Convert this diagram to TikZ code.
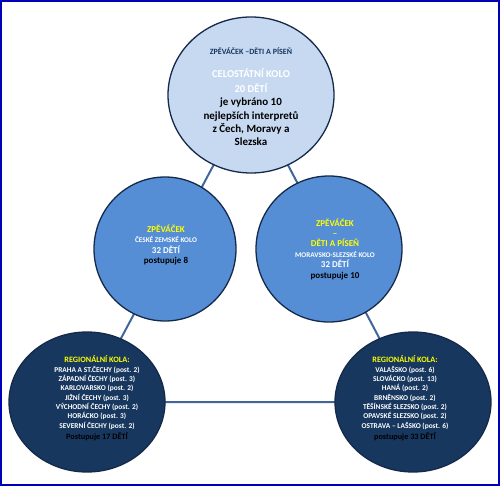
\documentclass[tikz,border=0pt]{standalone}
\usepackage{fontspec}
\setmainfont{Carlito}
\usetikzlibrary{shapes.geometric,backgrounds,positioning}
\definecolor{tmava}{HTML}{17375E}
\definecolor{okraj}{HTML}{15294A}
\definecolor{stredni}{HTML}{558ED5}
\definecolor{svetla}{HTML}{C6D9F1}
\definecolor{spojnice}{HTML}{41679A}
\definecolor{ramecek}{HTML}{0000B8}
\definecolor{zluta}{HTML}{FFFF00}

\tikzset{
  kolo/.style={ellipse, draw=okraj, line width=1.3pt, inner sep=0pt},
  popis/.style={align=center, inner sep=0pt},
  spoj/.style={spojnice, line width=2pt},
}

\begin{document}
\begin{tikzpicture}[x=1pt,y=-1pt]
\useasboundingbox (0,0) rectangle (500,486);
\draw[ramecek, line width=2pt] (1,1) rectangle (499,485);

\node[kolo, fill=svetla, minimum width=166pt, minimum height=156pt] (celo) at (251,95) {};
\node[kolo, fill=stredni, minimum width=142pt, minimum height=144pt] (cesko) at (165,249) {};
\node[kolo, fill=stredni, minimum width=146pt, minimum height=146pt] (morava) at (329,249) {};
\node[kolo, fill=tmava, minimum width=156pt, minimum height=140pt] (regcz) at (87,402) {};
\node[kolo, fill=tmava, minimum width=156pt, minimum height=140pt] (regms) at (413,402) {};

\begin{scope}[on background layer]
\draw[spoj] (celo.center) -- (regcz.center) -- (regms.center) -- cycle;
\end{scope}

\node[popis, text=tmava, font=\bfseries\fontsize{8}{10}\selectfont] (celonadpis) at (251,51) {ZPĚVÁČEK –DĚTI A PÍSEŇ};
\node[popis, text=white, font=\bfseries\fontsize{10.5}{15}\selectfont] (celokolo) at (251,81) {CELOSTÁTNÍ KOLO\\20 DĚTÍ};
\node[popis, font=\bfseries\fontsize{11}{13.3}\selectfont] (celoinfo) at (251,122) {je vybráno 10\\nejlepších interpretů\\z Čech, Moravy a\\Slezska};

\node[popis, text=white, font=\bfseries\fontsize{9}{10.6}\selectfont] (ceskotxt) at (166,245) {\textcolor{zluta}{ZPĚVÁČEK}\\
{\fontsize{7.2}{10.6}\selectfont ČESKÉ ZEMSKÉ KOLO}\\
32 DĚTÍ\\
\textcolor{black}{postupuje 8}};

\node[popis, text=white, font=\bfseries\fontsize{9}{10.4}\selectfont] (moravatxt) at (335,249) {\textcolor{zluta}{ZPĚVÁČEK}\\
\textcolor{zluta}{–}\\
\textcolor{zluta}{DĚTI A PÍSEŇ}\\
{\fontsize{7.2}{10.4}\selectfont MORAVSKO-SLEZSKÉ KOLO}\\
32 DĚTÍ\\
\textcolor{black}{postupuje 10}};

\node[popis, text=white, font=\bfseries\fontsize{7.4}{9.3}\selectfont] (regcztxt) at (97,398) {\textcolor{zluta}{\fontsize{8.2}{9.3}\selectfont REGIONÁLNÍ KOLA:}\\[1pt]
PRAHA A ST.ČECHY (post. 2)\\
ZÁPADNÍ ČECHY (post. 3)\\
KARLOVARSKO (post. 2)\\
JIŽNÍ ČECHY (post. 3)\\
VÝCHODNÍ ČECHY (post. 2)\\
HORÁCKO (post. 3)\\
SEVERNÍ ČECHY (post. 2)\\[2pt]
\textcolor{black}{\fontsize{8.2}{9.3}\selectfont Postupuje 17 DĚTÍ}};

\node[popis, text=white, font=\bfseries\fontsize{7.4}{9.3}\selectfont] (regmstxt) at (405,398) {\textcolor{zluta}{\fontsize{8.2}{9.3}\selectfont REGIONÁLNÍ KOLA:}\\[1pt]
VALAŠSKO (post. 6)\\
SLOVÁCKO (post. 13)\\
HANÁ (post. 2)\\
BRNĚNSKO (post. 2)\\
TĚŠÍNSKÉ SLEZSKO (post. 2)\\
OPAVSKÉ SLEZSKO (post. 2)\\
OSTRAVA – LAŠSKO (post. 6)\\[2pt]
\textcolor{black}{\fontsize{8.2}{9.3}\selectfont postupuje 33 DĚTÍ}};

\end{tikzpicture}
\end{document}
